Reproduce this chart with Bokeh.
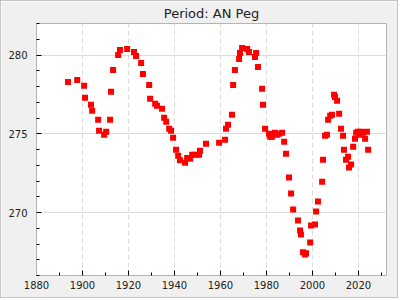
from bokeh.plotting import figure
from bokeh.models import FixedTicker, Range1d
from bokeh.embed import file_html
from bokeh.resources import INLINE

title_text = "Period: AN Peg"

years = [1893.7, 1897.7, 1900.7, 1901.1, 1903.7, 1904.2, 1906.8, 1907.2, 1909.4, 1910.3,
         1912.0, 1912.4, 1913.3, 1915.5, 1916.3, 1919.4, 1922.4, 1923.3, 1925.5, 1926.3,
         1929.0, 1929.4, 1931.6, 1932.4, 1934.6, 1935.5, 1936.4, 1937.7, 1938.5, 1939.4,
         1940.7, 1941.6, 1942.4, 1944.6, 1945.5, 1946.8, 1947.7, 1949.0, 1950.7, 1951.1,
         1953.7, 1959.4, 1962.0, 1962.4, 1963.3, 1965.0, 1965.5, 1966.3, 1968.1, 1968.5,
         1969.4, 1971.6, 1972.4, 1975.0, 1975.5, 1976.3, 1978.1, 1978.5, 1979.4, 1981.1,
         1981.6, 1982.4, 1983.7, 1984.6, 1985.5, 1986.8, 1987.7, 1988.5, 1989.8, 1990.7,
         1991.6, 1993.7, 1994.6, 1995.0, 1995.9, 1996.8, 1997.2, 1999.0, 1999.4, 2001.1,
         2001.6, 2002.4, 2004.2, 2004.6, 2005.5, 2006.3, 2006.8, 2007.7, 2008.5, 2009.4,
         2009.8, 2010.7, 2011.6, 2012.4, 2013.3, 2013.7, 2014.6, 2015.5, 2015.9, 2016.8,
         2017.7, 2018.5, 2019.0, 2019.8, 2020.7, 2021.1, 2022.0, 2022.9, 2023.7, 2024.2]

periods = [278.29, 278.42, 278.04, 277.28, 276.84, 276.46, 275.89, 275.19, 274.94, 275.13,
           275.89, 277.66, 279.05, 280.00, 280.32, 280.38, 280.19, 279.94, 279.49, 278.80,
           278.10, 277.22, 276.90, 276.77, 276.58, 276.01, 275.76, 275.32, 275.19, 274.75,
           273.99, 273.61, 273.31, 273.16, 273.46, 273.42, 273.67, 273.67, 273.67, 273.92,
           274.37, 274.43, 274.62, 275.32, 275.57, 276.20, 278.10, 279.05, 279.75, 280.13,
           280.44, 280.38, 280.19, 279.87, 280.13, 279.24, 277.85, 276.84, 275.32, 275.00,
           274.81, 274.81, 275.06, 274.94, 275.00, 275.06, 274.49, 273.73, 272.22, 271.20,
           270.19, 269.49, 268.86, 268.61, 267.47, 267.34, 267.41, 268.10, 269.18, 269.24,
           270.06, 270.70, 271.96, 273.35, 274.87, 274.94, 275.89, 276.14, 276.20, 277.47,
           277.34, 277.09, 276.27, 275.32, 274.87, 273.99, 273.35, 273.54, 272.85, 273.04,
           274.18, 274.68, 275.06, 275.13, 274.94, 275.13, 275.06, 274.68, 275.13, 273.99]

x_major = [1880, 1900, 1920, 1940, 1960, 1980, 2000, 2020]
x_minor = [1890, 1910, 1930, 1950, 1970, 1990, 2010, 2030]
y_major = [270, 275, 280]
y_minor = [266, 267, 268, 269, 271, 272, 273, 274, 276, 277, 278, 279, 281, 282]

FONT = "DejaVu Sans"

p = figure(width=398, height=298, output_backend="svg", toolbar_location=None,
           x_range=Range1d(1880, 2032.2), y_range=Range1d(266, 282),
           min_border_left=35, min_border_right=13, min_border_top=0, min_border_bottom=24,
           background_fill_color="white", border_fill_color="#f0f0f0",
           title=title_text)
p.styles = {"border": "1px solid #c4c4c4"}

p.title.align = "center"
p.title.text_font = FONT
p.title.text_font_size = "13px"
p.title.text_font_style = "normal"
p.title.text_color = "#222222"
p.title.standoff = 5
p.title.offset = 0

p.outline_line_color = "#b4b4b4"
p.outline_line_width = 1

p.xaxis.ticker = FixedTicker(ticks=x_major, minor_ticks=x_minor)
p.yaxis.ticker = FixedTicker(ticks=y_major, minor_ticks=y_minor)

for ax in (p.xaxis[0], p.yaxis[0]):
    ax.axis_line_color = "#b4b4b4"
    ax.major_tick_in = 5
    ax.major_tick_out = 0
    ax.minor_tick_in = 3
    ax.minor_tick_out = 0
    ax.major_tick_line_color = "black"
    ax.minor_tick_line_color = "black"
    ax.major_label_text_font = FONT
    ax.major_label_text_font_size = "10px"
    ax.major_label_text_color = "#222222"

p.xaxis.major_label_standoff = 5
p.yaxis.major_label_standoff = 9

p.xgrid.grid_line_color = "#dcdcdc"
p.xgrid.grid_line_dash = "5 3"
p.ygrid.grid_line_color = "#dcdcdc"

p.scatter(years, periods, marker="square", size=6, fill_color="red", line_color=None)

open("out.html", "w").write(file_html(p, INLINE))
